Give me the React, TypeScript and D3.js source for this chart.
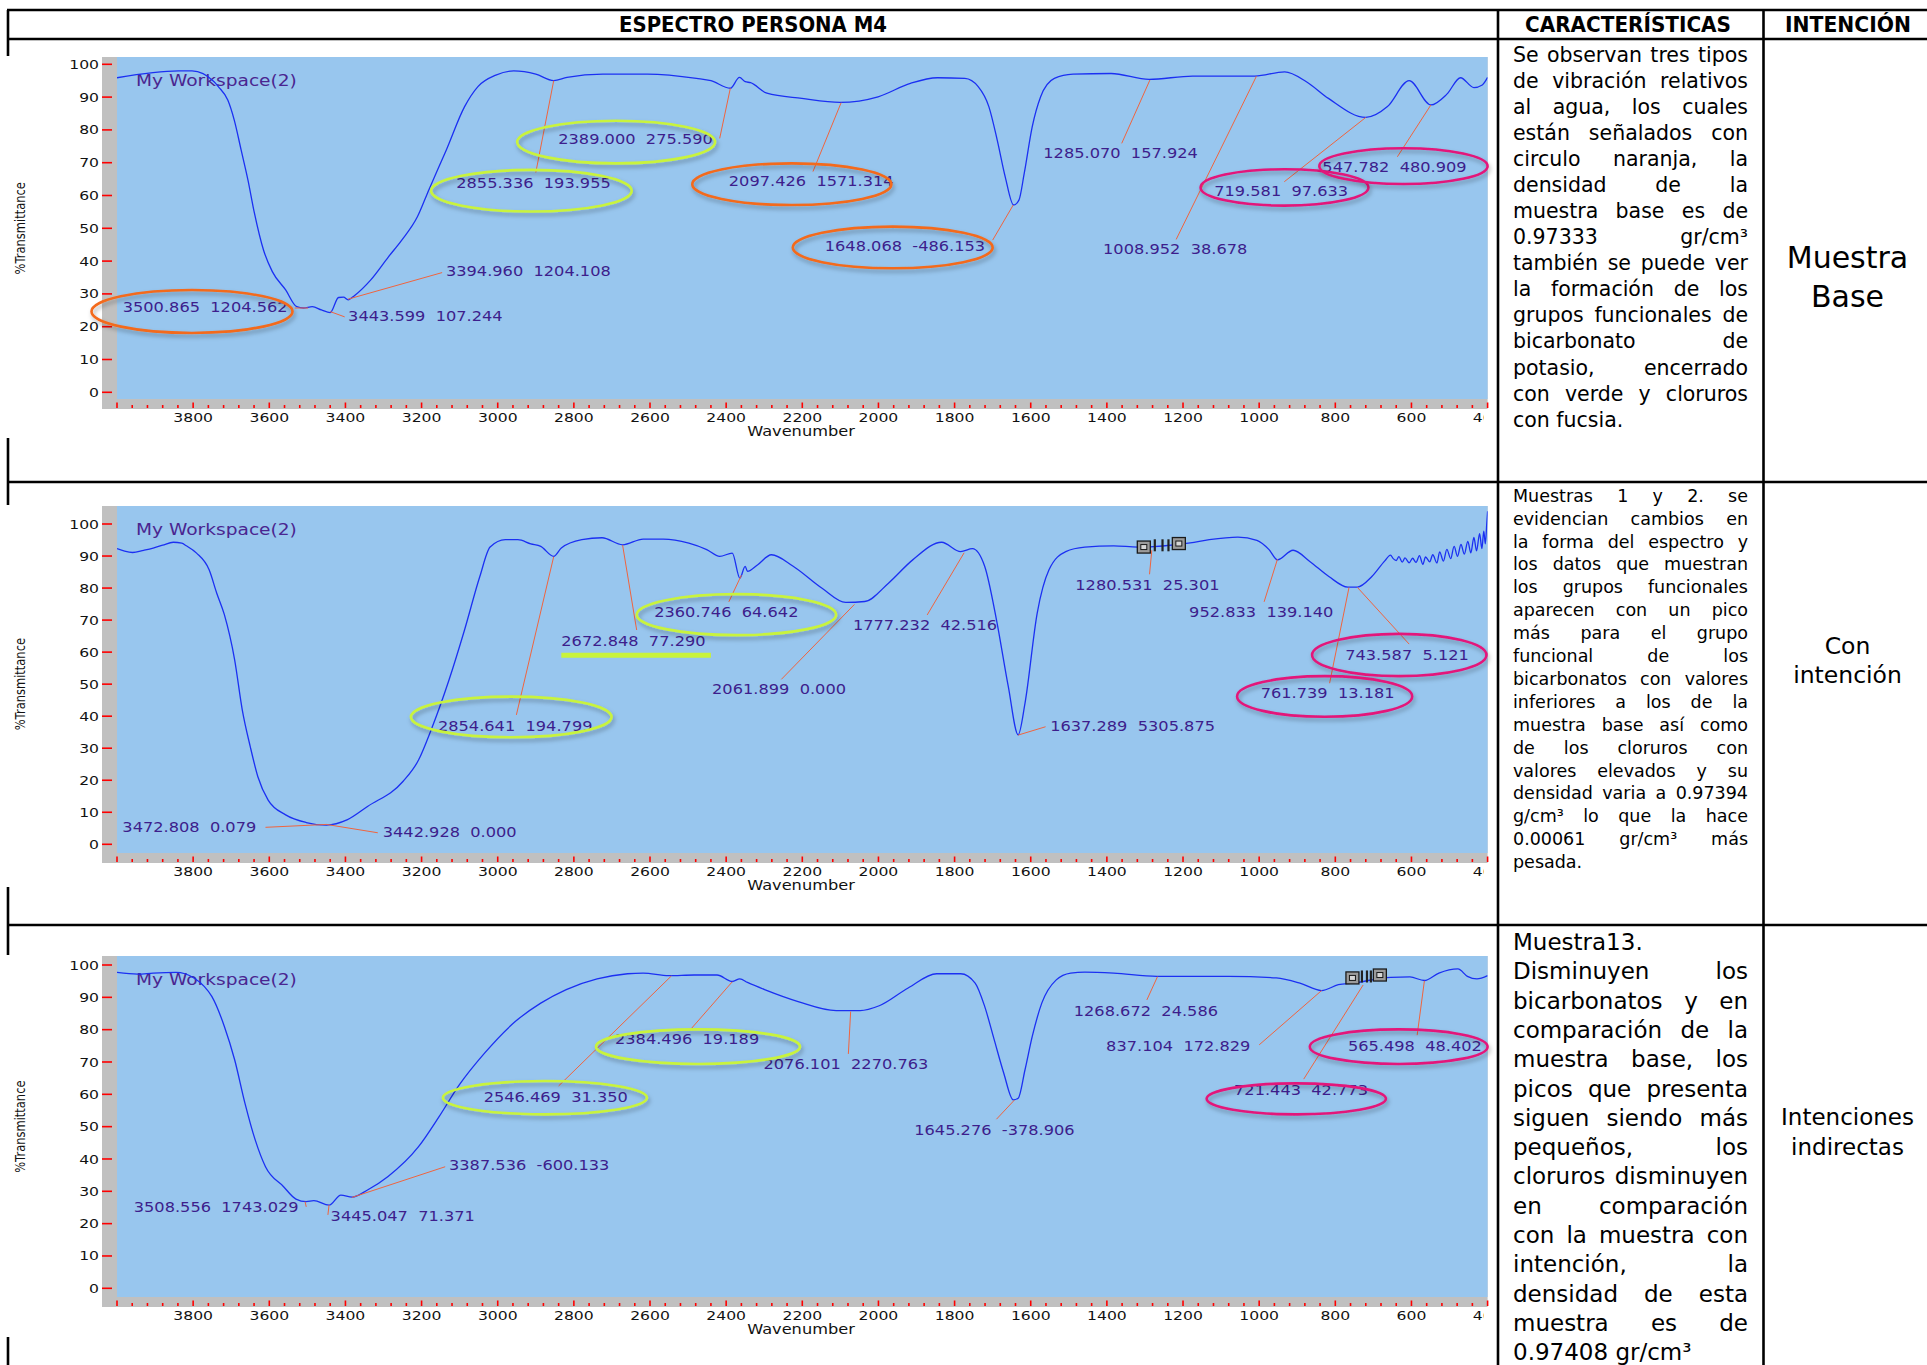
import React from 'react';
import * as d3 from 'd3';

const WIDTH = 1927;
const HEIGHT = 1365;

// --------------------------------------------------------
// spectra: [wavenumber (cm-1), %Transmittance]
// --------------------------------------------------------
const spectrumBase: [number, number][] = [
  [4000, 95.9], [3838, 98.0], [3803, 98.0], [3745, 94.7], [3734, 93.2], [3709, 89.1],
  [3692, 83.0], [3674, 73.9], [3656, 64.7], [3639, 54.6], [3615, 43.3], [3592, 36.8],
  [3557, 31.2], [3528, 26.1], [3510, 25.7], [3487, 26.1], [3463, 25.1], [3440, 24.3],
  [3418, 28.9], [3405, 29.0], [3393, 28.2], [3375, 29.6], [3334, 34.2], [3287, 41.3],
  [3252, 46.4], [3211, 53.5], [3181, 61.7], [3135, 73.9], [3087, 87.1], [3052, 93.2],
  [3005, 96.7], [2958, 98.0], [2900, 97.0], [2853, 95.0], [2818, 96.0], [2724, 97.0],
  [2607, 97.0], [2478, 95.7], [2440, 95.0], [2389, 92.7], [2365, 96.0], [2350, 94.7],
  [2336, 94.4], [2293, 91.2], [2201, 89.6], [2101, 88.4], [2001, 90.1], [1916, 94.2],
  [1845, 95.9], [1773, 95.7], [1738, 93.2], [1710, 87.1], [1688, 76.9], [1667, 65.7],
  [1645, 57.1], [1631, 58.6], [1617, 66.8], [1596, 81.0], [1574, 90.1], [1538, 95.7],
  [1489, 97.0], [1389, 97.2], [1289, 95.4], [1175, 96.4], [1011, 96.4], [933, 97.7],
  [876, 94.7], [818, 89.6], [720, 83.8], [663, 87.1], [606, 95.0], [549, 87.6],
  [507, 90.9], [471, 95.9], [436, 92.9], [414, 93.7], [400, 96.0],
];

const spectrumIntent: [number, number][] = [
  [4000, 92.3], [3980, 91.5], [3959, 91.1], [3930, 91.8], [3905, 92.5], [3880, 93.4],
  [3852, 94.3], [3830, 94.0], [3818, 93.2], [3791, 90.9], [3758, 85.7], [3738, 78.4],
  [3718, 71.7], [3691, 57.6], [3671, 42.0], [3650, 30.5], [3630, 21.1], [3603, 13.8],
  [3557, 9.2], [3503, 6.8], [3450, 6.0], [3396, 7.6], [3342, 11.8], [3249, 19.6],
  [3208, 26.3], [3175, 35.7], [3128, 51.3], [3087, 67.0], [3047, 83.6], [3020, 92.8],
  [2980, 95.1], [2947, 95.1], [2913, 93.8], [2887, 93.0], [2853, 89.9], [2833, 92.5],
  [2779, 95.1], [2726, 95.7], [2672, 93.5], [2618, 95.3], [2565, 95.3], [2498, 94.0],
  [2451, 92.0], [2417, 89.9], [2384, 90.9], [2364, 83.1], [2350, 86.8], [2344, 85.2],
  [2317, 87.3], [2281, 90.4], [2224, 86.8], [2149, 80.0], [2086, 75.5], [2036, 75.8],
  [1973, 81.6], [1910, 88.8], [1834, 94.3], [1784, 91.4], [1753, 92.3], [1721, 86.8],
  [1690, 70.1], [1659, 49.3], [1633, 34.2], [1615, 44.1], [1583, 72.2], [1552, 85.7],
  [1508, 91.4], [1458, 92.8], [1382, 93.2], [1319, 92.8], [1181, 94.1], [1131, 95.1],
  [1056, 95.9], [1006, 94.9], [974, 92.0], [952, 88.8], [911, 91.8], [867, 88.3],
  [817, 83.6], [767, 80.3], [742, 80.3], [704, 83.6], [670, 88.5], [655, 90.3],
  [648, 89.2], [640, 88.6], [633, 89.8], [624, 88.1], [617, 89.4], [606, 87.9],
  [597, 89.3], [588, 88.0], [579, 90.1], [570, 87.4], [563, 89.7], [552, 88.2],
  [544, 90.4], [533, 87.8], [526, 91.3], [516, 88.4], [507, 92.1], [497, 89.2],
  [488, 93.0], [479, 89.9], [470, 93.6], [461, 90.6], [452, 94.6], [444, 91.0],
  [436, 95.8], [429, 91.6], [421, 97.0], [415, 92.3], [410, 97.8], [406, 93.8],
  [402, 100.5], [400, 104.0],
];

const spectrumIndirect: [number, number][] = [
  [4000, 97.7], [3946, 97.2], [3905, 97.5], [3845, 97.7], [3798, 96.0], [3771, 93.4],
  [3751, 90.3], [3718, 81.0], [3691, 70.7], [3664, 57.3], [3637, 45.9], [3610, 37.6],
  [3563, 31.5], [3530, 27.6], [3503, 26.8], [3483, 27.1], [3443, 25.7], [3412, 28.8],
  [3382, 28.2], [3342, 30.4], [3288, 34.6], [3208, 43.8], [3154, 53.1], [3101, 62.9],
  [3034, 72.8], [2954, 82.5], [2887, 88.2], [2820, 92.4], [2739, 95.7], [2659, 97.3],
  [2618, 97.5], [2551, 96.7], [2484, 96.9], [2424, 96.9], [2384, 94.9], [2364, 95.7],
  [2344, 94.6], [2299, 92.4], [2211, 88.7], [2111, 85.9], [2048, 85.9], [1998, 87.4],
  [1922, 92.9], [1847, 97.3], [1784, 97.3], [1746, 94.4], [1721, 87.2], [1696, 76.9],
  [1671, 66.6], [1646, 58.3], [1633, 58.8], [1615, 67.6], [1596, 77.9], [1571, 88.2],
  [1533, 95.4], [1495, 97.5], [1458, 97.8], [1382, 97.5], [1269, 96.5], [1081, 96.5],
  [955, 96.0], [893, 94.4], [836, 92.1], [792, 93.9], [754, 94.4], [654, 96.2],
  [604, 96.3], [566, 95.2], [528, 97.5], [478, 98.8], [453, 96.5], [428, 95.7], [400, 96.7],
];

// --------------------------------------------------------
// peak labels: text, curve point, leader start, label anchor (all [wn, %T])
// --------------------------------------------------------
type Peak = { text: string; peak: number[]; lead: number[]; at: number[] };

const peaksBase: Peak[] = [
  { text: '3500.865  1204.562', peak: [3498, 25.7], lead: [3533, 25.7], at: [3985, 26.0] },
  { text: '3443.599  107.244', peak: [3440, 24.6], lead: [3402, 23.0], at: [3393, 23.0] },
  { text: '3394.960  1204.108', peak: [3393, 28.4], lead: [3146, 36.5], at: [3136, 36.8] },
  { text: '2855.336  193.955', peak: [2853, 95.0], lead: [2900, 67.0], at: [3109, 63.7] },
  { text: '2389.000  275.590', peak: [2389, 92.7], lead: [2417, 77.4], at: [2841, 77.1] },
  { text: '2097.426  1571.314', peak: [2098, 88.3], lead: [2172, 67.3], at: [2393, 64.2] },
  { text: '1648.068  -486.153', peak: [1646, 57.1], lead: [1700, 46.4], at: [2141, 44.6] },
  { text: '1285.070  157.924', peak: [1287, 95.2], lead: [1361, 75.9], at: [1567, 72.7] },
  { text: '1008.952  38.678', peak: [1007, 96.4], lead: [1218, 46.6], at: [1410, 43.4] },
  { text: '719.581  97.633', peak: [720, 83.8], lead: [934, 64.2], at: [1118, 61.2] },
  { text: '547.782  480.909', peak: [549, 87.6], lead: [637, 71.8], at: [834, 68.5] },
];

const peaksIntent: Peak[] = [
  { text: '3472.808  0.079', peak: [3450, 6.2], lead: [3610, 5.3], at: [3986, 5.3] },
  { text: '3442.928  0.000', peak: [3450, 6.2], lead: [3315, 3.6], at: [3302, 3.6] },
  { text: '2854.641  194.799', peak: [2853, 89.8], lead: [2951, 40.4], at: [3157, 36.9] },
  { text: '2672.848  77.290', peak: [2672, 93.4], lead: [2635, 66.9], at: [2833, 63.3] },
  { text: '2360.746  64.642', peak: [2360, 84.0], lead: [2393, 75.7], at: [2589, 72.3] },
  { text: '2061.899  0.000', peak: [2063, 74.9], lead: [2255, 51.5], at: [2437, 48.2] },
  { text: '1777.232  42.516', peak: [1775, 91.0], lead: [1872, 71.6], at: [2067, 68.2] },
  { text: '1637.289  5305.875', peak: [1633, 34.1], lead: [1561, 36.7], at: [1549, 36.9] },
  { text: '1280.531  25.301', peak: [1282, 91.8], lead: [1288, 84.3], at: [1483, 80.9] },
  { text: '952.833  139.140', peak: [952, 89.0], lead: [987, 75.7], at: [1184, 72.3] },
  { text: '743.587  5.121', peak: [742, 80.2], lead: [606, 62.5], at: [774, 59.1] },
  { text: '761.739  13.181', peak: [764, 80.2], lead: [815, 50.3], at: [996, 47.1] },
];

const peaksIndirect: Peak[] = [
  { text: '3508.556  1743.029', peak: [3506, 26.8], lead: [3503, 25.2], at: [3956, 25.1] },
  { text: '3445.047  71.371', peak: [3443, 25.8], lead: [3446, 22.7], at: [3439, 22.1] },
  { text: '3387.536  -600.133', peak: [3383, 28.1], lead: [3138, 37.6], at: [3128, 37.9] },
  { text: '2546.469  31.350', peak: [2544, 96.6], lead: [2840, 62.6], at: [3037, 59.1] },
  { text: '2384.496  19.189', peak: [2384, 94.8], lead: [2491, 80.4], at: [2692, 77.1] },
  { text: '2076.101  2270.763', peak: [2073, 85.6], lead: [2079, 72.5], at: [2302, 69.1] },
  { text: '1645.276  -378.906', peak: [1643, 58.2], lead: [1690, 52.3], at: [1906, 48.7] },
  { text: '1268.672  24.586', peak: [1267, 96.4], lead: [1295, 89.2], at: [1487, 85.6] },
  { text: '837.104  172.829', peak: [836, 92.1], lead: [1000, 75.3], at: [1402, 74.9] },
  { text: '565.498  48.402', peak: [566, 95.1], lead: [585, 78.3], at: [767, 74.9] },
  { text: '721.443  42.773', peak: [727, 93.8], lead: [883, 64.7], at: [1066, 61.3] },
];

// hand drawn rings: functional group, wavenumber span, %T span
type Ring = { group: string; wn: number[]; t: number[] };

const ringsBase: Ring[] = [
  { group: 'agua', wn: [4067, 3539], t: [31.2, 18.1] },
  { group: 'bicarbonato', wn: [3175, 2648], t: [67.8, 55.1] },
  { group: 'bicarbonato', wn: [2949, 2429], t: [82.8, 69.8] },
  { group: 'agua', wn: [2489, 1966], t: [69.8, 57.1] },
  { group: 'agua', wn: [2225, 1700], t: [50.5, 37.8] },
  { group: 'cloruro', wn: [1154, 713], t: [68.0, 56.9] },
  { group: 'cloruro', wn: [842, 400], t: [74.4, 63.5] },
];

const ringsIntent: Ring[] = [
  { group: 'bicarbonato', wn: [3228, 2701], t: [46.1, 33.4] },
  { group: 'bicarbonato', wn: [2635, 2111], t: [78.1, 65.3] },
  { group: 'cloruro', wn: [861, 403], t: [65.7, 52.5] },
  { group: 'cloruro', wn: [1058, 598], t: [52.5, 39.8] },
];

const ringsIndirect: Ring[] = [
  { group: 'bicarbonato', wn: [3144, 2608], t: [64.1, 53.8] },
  { group: 'bicarbonato', wn: [2742, 2206], t: [80.1, 69.4] },
  { group: 'cloruro', wn: [867, 400], t: [80.1, 69.4] },
  { group: 'cloruro', wn: [1138, 667], t: [63.4, 53.8] },
];

// green underline in the second spectrum: wavenumber span and %T
const underlineIntent = { wn: [2833, 2440], t: 59.0 };

// cursor markers that the software left on the curve
const markersIntent = [[1303, 92.8], [1211, 93.9]];
const markersIndirect = [[755, 96.0], [683, 96.9]];

const groupColor: Record<string, string> = {
  agua: '#f36a1c',
  bicarbonato: '#c9f33c',
  cloruro: '#e3177a',
};

// table texts
const headers = ['ESPECTRO PERSONA M4', 'CARACTERÍSTICAS', 'INTENCIÓN'];

const textBase = [
  'Se observan tres tipos', 'de vibración relativos', 'al agua, los cuales',
  'están señalados con', 'circulo naranja, la', 'densidad de la',
  'muestra base es de', '0.97333 gr/cm³', 'también se puede ver',
  'la formación de los', 'grupos funcionales de', 'bicarbonato de',
  'potasio, encerrado', 'con verde y cloruros', 'con fucsia.',
];
const textIntent = [
  'Muestras 1 y 2. se', 'evidencian cambios en', 'la forma del espectro y',
  'los datos que muestran', 'los grupos funcionales', 'aparecen con un pico',
  'más para el grupo', 'funcional de los', 'bicarbonatos con valores',
  'inferiores a los de la', 'muestra base así como', 'de los cloruros con',
  'valores elevados y su', 'densidad varia a 0.97394', 'g/cm³ lo que la hace',
  '0.00061 gr/cm³ más', 'pesada.',
];
const textIndirect = [
  'Muestra13.', 'Disminuyen los', 'bicarbonatos y en', 'comparación de la',
  'muestra base, los', 'picos que presenta', 'siguen siendo más', 'pequeños, los',
  'cloruros disminuyen', 'en comparación', 'con la muestra con', 'intención, la',
  'densidad de esta', 'muestra es de', '0.97408 gr/cm³',
];
const intentBase = ['Muestra', 'Base'];
const intentIntent = ['Con', 'intención'];
const intentIndirect = ['Intenciones', 'indirectas'];

// --------------------------------------------------------
// layout
// --------------------------------------------------------
const FONT = '"DejaVu Sans"';
const SX = 1.2; // the pasted screenshots are stretched sideways
const x = d3.scaleLinear().domain([4000, 400]).range([117, 1487.6]);

const panels = [
  { top: 57, bottom: 399, y0: 392.3, y100: 64.3, data: spectrumBase, peaks: peaksBase, rings: ringsBase, marks: [] as number[][], underline: null as any },
  { top: 506, bottom: 853, y0: 844.3, y100: 524, data: spectrumIntent, peaks: peaksIntent, rings: ringsIntent, marks: markersIntent, underline: underlineIntent },
  { top: 956, bottom: 1297, y0: 1288.3, y100: 965, data: spectrumIndirect, peaks: peaksIndirect, rings: ringsIndirect, marks: markersIndirect, underline: null as any },
];

const rows = [
  { text: textBase, first: 61.7, lh: 26.07, size: 20.5, intent: intentBase, iy: [268.3, 306.7], isize: 30 },
  { text: textIntent, first: 501.7, lh: 22.9, size: 17.5, intent: intentIntent, iy: [654, 682.7], isize: 23.5 },
  { text: textIndirect, first: 950, lh: 29.3, size: 23, intent: intentIndirect, iy: [1125, 1155], isize: 23 },
];

let measureCtx: CanvasRenderingContext2D | null = null;
function textWidth(s: string, size: number) {
  if (!measureCtx) measureCtx = document.createElement('canvas').getContext('2d');
  measureCtx!.font = `${size}px ${FONT}`;
  return measureCtx!.measureText(s).width;
}

// justified line, like the word document
function JustLine({ text, x0, y, width, size, last }: { text: string; x0: number; y: number; width: number; size: number; last: boolean }) {
  const words = text.split(/\s+/);
  if (last || text.endsWith('.') || words.length < 2) {
    return <text x={x0} y={y}>{text}</text>;
  }
  const ws = words.map(w => textWidth(w, size));
  const gap = (width - d3.sum(ws)) / (words.length - 1);
  if (gap < size * 0.2) {
    return <text x={x0} y={y} textLength={width} lengthAdjust="spacingAndGlyphs">{text}</text>;
  }
  let cx = x0;
  return (
    <text y={y}>
      {words.map((w, j) => {
        const t = <tspan key={j} x={cx}>{w}</tspan>;
        cx += ws[j] + gap;
        return t;
      })}
    </text>
  );
}

function Stretched({ px, py, anchor, size, fill, children }: any) {
  return (
    <text transform={`translate(${px},${py}) scale(${SX},1)`} textAnchor={anchor || 'start'}
      dominantBaseline="central" fontSize={size} fill={fill} style={{ whiteSpace: 'pre' }}>
      {children}
    </text>
  );
}

function Spectrum({ p, i }: { p: typeof panels[0]; i: number }) {
  const y = d3.scaleLinear().domain([0, 100]).range([p.y0, p.y100]);
  const line = d3.line<[number, number]>()
    .x(d => x(d[0]))
    .y(d => y(d[1]))
    .curve(d3.curveMonotoneX);

  const minor = d3.range(4000, 399, -40);
  const major = d3.range(3800, 399, -200);
  const left = 102;
  const plotL = x(4000);
  const plotR = x(400);

  return (
    <g fontFamily={FONT}>
      {/* white screenshot backdrop hides the table border */}
      <rect x={0} y={p.top - 1} width={1493} height={382} fill="#fff" />
      <rect x={left} y={p.top} width={plotR - left} height={p.bottom + 10 - p.top} fill="#c0c0c0" />
      <rect x={plotL} y={p.top} width={plotR - plotL} height={p.bottom - p.top} fill="#98c6ee" />

      {/* x ticks */}
      {minor.map(v => {
        const isMajor = (4000 - v) % 200 === 0;
        return <line key={v} x1={x(v)} x2={x(v)} y1={p.bottom + (isMajor ? 3.5 : 6)} y2={p.bottom + 9}
          stroke="#ff0000" strokeWidth={1.6} />;
      })}
      <clipPath id={`lab${i}`}><rect x={0} y={p.bottom} width={1484} height={40} /></clipPath>
      <g clipPath={`url(#lab${i})`}>
        {major.map(v => (
          <Stretched key={v} px={x(v)} py={p.bottom + 18.5} anchor="middle" size={13} fill="#111">{v}</Stretched>
        ))}
      </g>
      <Stretched px={801} py={p.bottom + 32} anchor="middle" size={13.5} fill="#111">Wavenumber</Stretched>

      {/* y ticks */}
      {d3.range(0, 101, 10).map(v => (
        <g key={v}>
          <line x1={left} x2={left + 10} y1={y(v)} y2={y(v)} stroke="#ff0000" strokeWidth={1.6} />
          <Stretched px={99} py={y(v)} anchor="end" size={13} fill="#111">{v}</Stretched>
        </g>
      ))}
      <text transform={`translate(20,${(p.y0 + p.y100) / 2}) rotate(-90) scale(1,${SX})`} textAnchor="middle"
        dominantBaseline="central" fontSize={11.5} fill="#111">%Transmittance</text>

      <Stretched px={136} py={p.top + 24} size={15.5} fill="#4a2590">My Workspace(2)</Stretched>

      <clipPath id={`plot${i}`}><rect x={plotL} y={p.top} width={plotR - plotL} height={p.bottom - p.top} /></clipPath>
      <path d={line(p.data as [number, number][]) || ''} fill="none" stroke="#1b30f2" strokeWidth={1.3}
        clipPath={`url(#plot${i})`} />

      {/* markers */}
      {p.marks.length === 2 && (() => {
        const [a, b] = p.marks.map(m => [x(m[0]), y(m[1])]);
        const gapL = a[0] + 6.5, gapR = b[0] - 6.5;
        return (
          <g>
            {[0.2, 0.55, 0.82].map(f => (
              <rect key={f} x={gapL + (gapR - gapL) * f - 1} y={(a[1] + b[1]) / 2 - 6} width={2.2} height={12} fill="#222" />
            ))}
            {[a, b].map((m, k) => (
              <g key={k} transform={`translate(${m[0]},${m[1]})`}>
                <rect x={-6.5} y={-6} width={13} height={12} fill="#9b9b9b" stroke="#1a1a1a" strokeWidth={1.3} />
                <rect x={-3} y={-2.5} width={6} height={5} fill="#d6d6d6" stroke="#1a1a1a" strokeWidth={1} />
              </g>
            ))}
          </g>
        );
      })()}

      {/* leaders and labels */}
      {p.peaks.map((d, k) => (
        <g key={k}>
          <line x1={x(d.lead[0])} y1={y(d.lead[1])} x2={x(d.peak[0])} y2={y(d.peak[1])} stroke="#f0643e" strokeWidth={1} />
          <Stretched px={x(d.at[0])} py={y(d.at[1])} size={13.5} fill="#3d1e8c">{d.text}</Stretched>
        </g>
      ))}

      {/* rings */}
      {p.rings.map((r, k) => {
        const x0 = x(r.wn[0]), x1 = x(r.wn[1]);
        const y0 = y(r.t[0]), y1 = y(r.t[1]);
        return (
          <ellipse key={k} cx={(x0 + x1) / 2} cy={(y0 + y1) / 2} rx={Math.abs(x1 - x0) / 2} ry={Math.abs(y1 - y0) / 2}
            fill="none" stroke={groupColor[r.group]} strokeWidth={2.6} filter="url(#soft)" />
        );
      })}
      {p.underline && (
        <line x1={x(p.underline.wn[0])} x2={x(p.underline.wn[1])} y1={y(p.underline.t)} y2={y(p.underline.t)}
          stroke={groupColor.bicarbonato} strokeWidth={5} />
      )}
    </g>
  );
}

export default function App() {
  const tableLines = [10, 39, 482, 925];
  const textX = 1513;
  const textW = 235;
  return (
    <div style={{ position: 'absolute', left: 0, top: 0 }}>
      <svg width={WIDTH} height={HEIGHT} style={{ display: 'block', background: '#fff' }}>
        <defs>
          <filter id="soft" x="-20%" y="-40%" width="140%" height="190%">
            <feDropShadow dx={1.5} dy={3} stdDeviation={2.2} floodColor="#000" floodOpacity={0.3} />
          </filter>
        </defs>

        {/* table grid */}
        <g stroke="#000" strokeWidth={2.6}>
          {tableLines.map(v => <line key={v} x1={7} x2={WIDTH} y1={v} y2={v} />)}
          {[8, 1498, 1763.5].map(v => <line key={v} x1={v} x2={v} y1={10} y2={HEIGHT} />)}
        </g>

        {/* headers */}
        <g fontFamily={FONT} fontWeight="bold" fontSize={21} fill="#000" textAnchor="middle">
          <text x={753} y={32} textLength={268} lengthAdjust="spacingAndGlyphs">{headers[0]}</text>
          <text x={1628} y={32} textLength={206} lengthAdjust="spacingAndGlyphs">{headers[1]}</text>
          <text x={1848} y={32} textLength={126} lengthAdjust="spacingAndGlyphs">{headers[2]}</text>
        </g>

        {panels.map((p, i) => <Spectrum key={i} p={p} i={i} />)}

        {/* description and intention columns */}
        {rows.map((r, i) => (
          <g key={i} fontFamily={FONT} fill="#000">
            <g fontSize={r.size}>
              {r.text.map((t, k) => (
                <JustLine key={k} text={t} x0={textX} y={r.first + k * r.lh} width={textW} size={r.size}
                  last={k === r.text.length - 1} />
              ))}
            </g>
            <g fontSize={r.isize} textAnchor="middle">
              {r.intent.map((t, k) => <text key={k} x={1847.5} y={r.iy[k]}>{t}</text>)}
            </g>
          </g>
        ))}
      </svg>
    </div>
  );
}
